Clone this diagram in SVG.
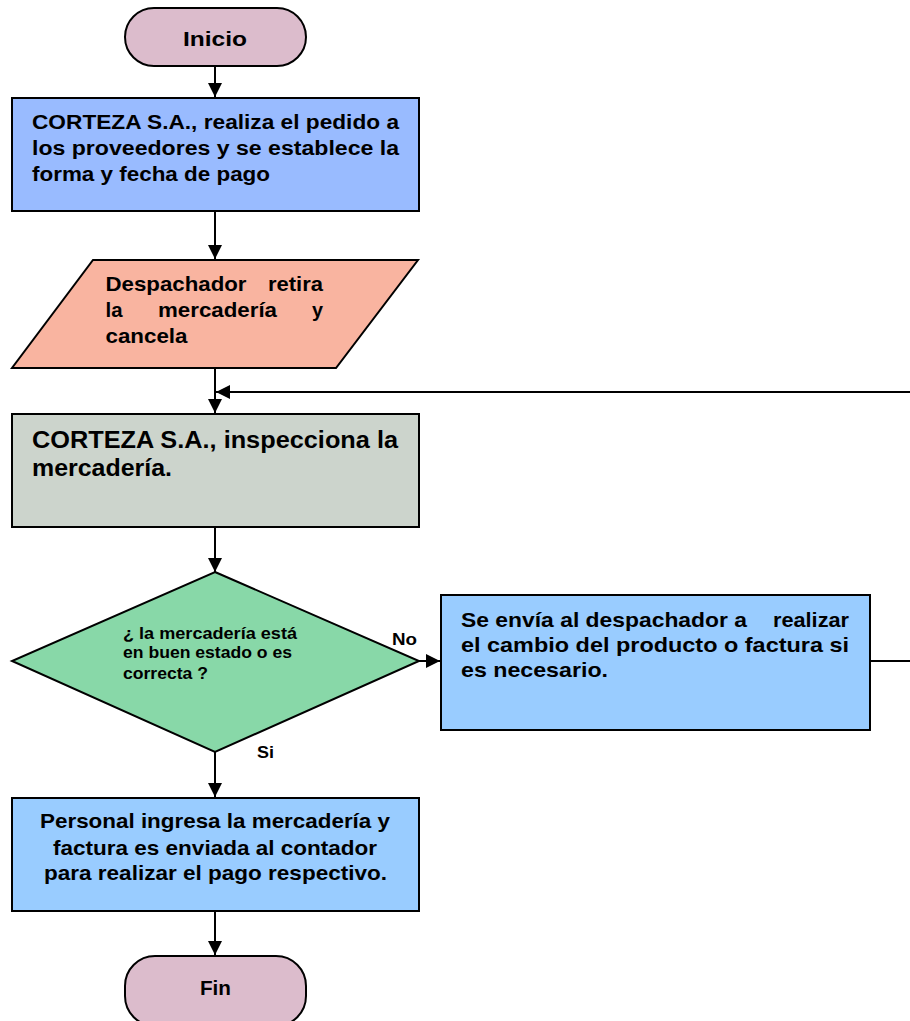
<svg xmlns="http://www.w3.org/2000/svg" width="910" height="1021" viewBox="0 0 910 1021">
<defs>
<marker id="ah" viewBox="0 0 10 10" refX="10" refY="5" markerWidth="14" markerHeight="14" markerUnits="userSpaceOnUse" orient="auto"><path d="M0,0 L10,5 L0,10 z" fill="#000"/></marker>
<style>
.s{stroke:#000;stroke-width:2}
.t{font-family:"Liberation Sans",Arial,sans-serif;font-weight:bold;fill:#000}
.c{stroke:#000;stroke-width:2;fill:none}
</style>
</defs>
<rect width="910" height="1021" fill="#fff"/>
<g id="connectors">
<line class="c" x1="215" y1="66" x2="215" y2="97" marker-end="url(#ah)"/>
<line class="c" x1="215" y1="211" x2="215" y2="259" marker-end="url(#ah)"/>
<line class="c" x1="215" y1="368" x2="215" y2="413" marker-end="url(#ah)"/>
<line class="c" x1="910" y1="392" x2="216" y2="392" marker-end="url(#ah)"/>
<line class="c" x1="215" y1="527" x2="215" y2="572" marker-end="url(#ah)"/>
<line class="c" x1="419" y1="661" x2="440" y2="661" marker-end="url(#ah)"/>
<line class="c" x1="870" y1="661" x2="910" y2="661"/>
<line class="c" x1="215" y1="752" x2="215" y2="797" marker-end="url(#ah)"/>
<line class="c" x1="215" y1="911" x2="215" y2="955" marker-end="url(#ah)"/>
<text class="t" x="392" y="645" font-size="16" textLength="25" lengthAdjust="spacingAndGlyphs">No</text>
<text class="t" x="257" y="758" font-size="16" textLength="17" lengthAdjust="spacingAndGlyphs">Si</text>
</g>
<g id="inicio">
<rect class="s" x="125" y="8" width="181" height="58" rx="29" fill="#dcbccc"/>
<text class="t" x="183" y="46" font-size="20" textLength="64" lengthAdjust="spacingAndGlyphs">Inicio</text>
</g>
<g id="pedido">
<rect class="s" x="12" y="98" width="407" height="113" fill="#99bbff"/>
<text class="t" font-size="19.5"><tspan x="32" y="129" textLength="367" lengthAdjust="spacingAndGlyphs">CORTEZA S.A., realiza el pedido a</tspan><tspan x="32" y="155" textLength="367" lengthAdjust="spacingAndGlyphs">los proveedores y se establece  la</tspan><tspan x="32" y="181" textLength="238" lengthAdjust="spacingAndGlyphs">forma y fecha de pago</tspan></text>
</g>
<g id="despachador">
<polygon class="s" points="93,260 418,260 336,368 12,368" fill="#f9b4a0"/>
<text class="t" font-size="20.5"><tspan x="105.5" y="291" textLength="141" lengthAdjust="spacingAndGlyphs">Despachador</tspan><tspan x="268" y="291" textLength="55" lengthAdjust="spacingAndGlyphs">retira</tspan><tspan x="105.5" y="317" textLength="17" lengthAdjust="spacingAndGlyphs">la</tspan><tspan x="158" y="317" textLength="119" lengthAdjust="spacingAndGlyphs">mercadería</tspan><tspan x="312" y="317" textLength="11" lengthAdjust="spacingAndGlyphs">y</tspan><tspan x="105.5" y="343" textLength="82" lengthAdjust="spacingAndGlyphs">cancela</tspan></text>
</g>
<g id="inspecciona">
<rect class="s" x="12" y="414" width="407" height="113" fill="#ccd4cc"/>
<text class="t" font-size="23.5"><tspan x="32" y="448" textLength="366" lengthAdjust="spacingAndGlyphs">CORTEZA S.A., inspecciona la</tspan><tspan x="32" y="476" textLength="140" lengthAdjust="spacingAndGlyphs">mercadería.</tspan></text>
</g>
<g id="decision">
<polygon class="s" points="215,572 419,661 215,752 12,661" fill="#88d8a8"/>
<text class="t" font-size="16"><tspan x="123" y="639" textLength="174" lengthAdjust="spacingAndGlyphs">¿ la mercadería  está</tspan><tspan x="123" y="658" textLength="169" lengthAdjust="spacingAndGlyphs">en buen estado o es</tspan><tspan x="123" y="679" textLength="85" lengthAdjust="spacingAndGlyphs">correcta ?</tspan></text>
</g>
<g id="cambio">
<rect class="s" x="441" y="595" width="429" height="135" fill="#99ccff"/>
<text class="t" font-size="20.5"><tspan x="461" y="627" textLength="286" lengthAdjust="spacingAndGlyphs">Se envía al despachador a</tspan><tspan x="773" y="627" textLength="76" lengthAdjust="spacingAndGlyphs">realizar</tspan><tspan x="461" y="652" textLength="388" lengthAdjust="spacingAndGlyphs">el cambio del producto o factura si</tspan><tspan x="461" y="677" textLength="147" lengthAdjust="spacingAndGlyphs">es necesario.</tspan></text>
</g>
<g id="ingresa">
<rect class="s" x="12" y="798" width="407" height="113" fill="#99ccff"/>
<text class="t" font-size="21"><tspan x="40" y="828" textLength="350" lengthAdjust="spacingAndGlyphs">Personal ingresa la mercadería y</tspan><tspan x="53" y="855" textLength="324" lengthAdjust="spacingAndGlyphs">factura es enviada al contador</tspan><tspan x="44" y="880" textLength="343" lengthAdjust="spacingAndGlyphs">para realizar el pago respectivo.</tspan></text>
</g>
<g id="fin">
<rect class="s" x="125" y="956" width="181" height="70" rx="30" fill="#dcbccc"/>
<text class="t" x="200" y="995" font-size="21" textLength="31" lengthAdjust="spacingAndGlyphs">Fin</text>
</g>
</svg>
